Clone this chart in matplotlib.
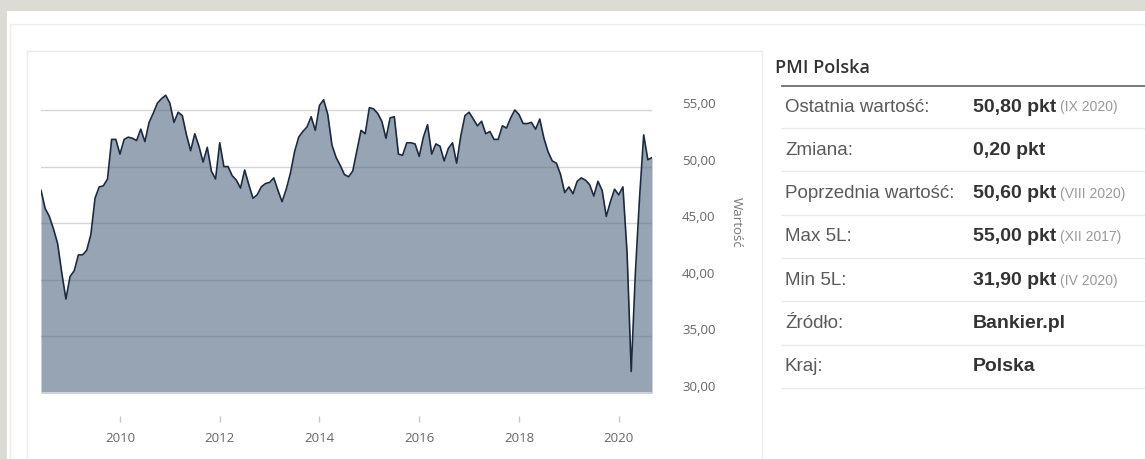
import matplotlib.pyplot as plt
from matplotlib.patches import Rectangle
from matplotlib.lines import Line2D
from matplotlib.transforms import ScaledTranslation

# miesięczny PMI Polska, od VI 2008 do IX 2020
start_year, start_month = 2008, 6
pmi = [47.9, 46.3, 45.6, 44.5, 43.2, 40.6, 38.3,
       40.3, 40.8, 42.2, 42.2, 42.6, 44.0, 47.2, 48.2, 48.3, 48.9, 52.4, 52.4,
       51.1, 52.4, 52.6, 52.5, 52.3, 53.3, 52.2, 53.9, 54.7, 55.6, 56.0, 56.3,
       55.6, 53.9, 54.8, 54.5, 52.8, 51.4, 52.9, 51.8, 50.4, 51.7, 49.6, 48.9,
       52.1, 50.0, 50.0, 49.2, 48.8, 48.1, 49.7, 48.4, 47.2, 47.5, 48.2, 48.5,
       48.6, 49.0, 47.9, 46.9, 48.0, 49.4, 51.3, 52.6, 53.1, 53.5, 54.4, 53.2,
       55.4, 55.9, 54.6, 51.9, 50.8, 50.1, 49.3, 49.1, 49.6, 51.4, 53.2, 52.9,
       55.2, 55.1, 54.7, 54.0, 52.5, 54.3, 54.4, 51.1, 51.0, 52.1, 52.1, 52.0,
       50.9, 52.6, 53.7, 51.1, 52.0, 51.8, 50.5, 51.6, 52.1, 50.3, 52.7, 54.5,
       54.8, 54.2, 53.6, 54.0, 52.9, 53.1, 52.4, 52.4, 53.6, 53.4, 54.3, 55.0,
       54.6, 53.8, 53.8, 53.9, 53.3, 54.2, 52.5, 51.3, 50.5, 50.3, 49.3, 47.7,
       48.2, 47.6, 48.7, 49.0, 48.8, 48.4, 47.4, 48.7, 47.9, 45.6, 46.9, 48.0,
       47.5, 48.2, 42.4, 31.9, 40.6, 47.2, 52.8, 50.6, 50.8]
y_ticks = [30, 35, 40, 45, 50, 55]
x_ticks = [2010, 2012, 2014, 2016, 2018, 2020]

# tabela po prawej
title = "PMI Polska"
row_labels = ["Ostatnia wartość:", "Zmiana:", "Poprzednia wartość:", "Max 5L:",
              "Min 5L:", "Źródło:", "Kraj:"]
row_values = ["50,80 pkt", "0,20 pkt", "50,60 pkt", "55,00 pkt", "31,90 pkt",
              "Bankier.pl", "Polska"]
row_dates = ["(IX 2020)", "", "(VIII 2020)", "(XII 2017)", "(IV 2020)", "", ""]

months = [start_year + (start_month - 1 + i) / 12 for i in range(len(pmi))]

W, H = 1145, 459
fig = plt.figure(figsize=(W / 100, H / 100), dpi=100, facecolor='#dcdbd6')


def fx(x):
    return x / W


def fy(y):
    return 1 - y / H


# tło strony
fig.add_artist(Rectangle((fx(7), 0), 1, fy(11), transform=fig.transFigure,
                         facecolor='white', edgecolor='none', zorder=-3))
fig.add_artist(Rectangle((fx(10), -0.1), 1.1, fy(24) + 0.1, transform=fig.transFigure,
                         facecolor='none', edgecolor='#efefef', lw=1, zorder=-2))
fig.add_artist(Rectangle((fx(27), -0.1), fx(762) - fx(27), fy(51) + 0.1,
                         transform=fig.transFigure, facecolor='none',
                         edgecolor='#ebebeb', lw=1, zorder=-2))

# wykres
ax = fig.add_axes([fx(41), fy(393), fx(652) - fx(41), fy(76) - fy(393)])
ax.set_facecolor('none')
ax.fill_between(months, pmi, 30, color='#4f657e', alpha=0.59, lw=0, zorder=1)
ax.plot(months, pmi, color='#1c2a40', lw=1.2, zorder=2)
ax.axhline(30, color='#d8dee8', lw=1.2, zorder=3)
ax.set_xlim(months[0], months[-1])
ax.set_ylim(30, 58)

ax.set_axisbelow(True)
ax.grid(axis='y', color='#d6d6d6', lw=1)
for s in ax.spines.values():
    s.set_visible(False)

ax.yaxis.tick_right()
ax.set_yticks(y_ticks)
ax.set_yticklabels([f"{v:.2f}".replace('.', ',') for v in y_ticks],
                   family='Open Sans', fontsize=9.5, color='#666666')
ax.tick_params(axis='y', length=0, pad=21.6)
for lbl in ax.get_yticklabels():
    lbl.set_transform(lbl.get_transform() + ScaledTranslation(0, 0.07, fig.dpi_scale_trans))

ax.spines['bottom'].set_position(('outward', 16.6))
ax.set_xticks(x_ticks)
ax.set_xticklabels([str(v) for v in x_ticks], family='Open Sans', fontsize=9.5,
                   color='#666666')
ax.tick_params(axis='x', length=4.3, width=1, color='#c8c8c8', pad=7)

fig.text(fx(736), fy(222), "Wartość", rotation=270, ha='center', va='center',
         family='Open Sans', fontsize=9.5, color='#777777')

# tabela
fig.text(fx(775), fy(68), title, family='Open Sans', fontsize=13, color='#333333',
         va='center', weight='semibold')
fig.add_artist(Line2D([fx(782), 1], [fy(86), fy(86)], transform=fig.transFigure,
                      color='#6e6e6e', lw=1.3))
row_h = 43.3
for i, (lab, val, dat) in enumerate(zip(row_labels, row_values, row_dates)):
    yc = 107 + i * row_h
    fig.text(fx(785), fy(yc), lab, family='Liberation Sans', fontsize=13.5,
             color='#5a5a5a', va='center')
    t = fig.text(fx(973), fy(yc), val, family='Liberation Sans', fontsize=14,
                 color='#333333', weight='bold', va='center')
    if dat:
        ax.annotate(dat, xy=(1, 0), xycoords=t, xytext=(4, 1),
                    textcoords='offset pixels', family='Liberation Sans',
                    fontsize=10, color='#999999', va='bottom',
                    annotation_clip=False)
    fig.add_artist(Line2D([fx(782), 1], [fy(yc + 21), fy(yc + 21)],
                          transform=fig.transFigure, color='#e8e8e8', lw=1))

fig.savefig("out.png", dpi=100, facecolor=fig.get_facecolor())
